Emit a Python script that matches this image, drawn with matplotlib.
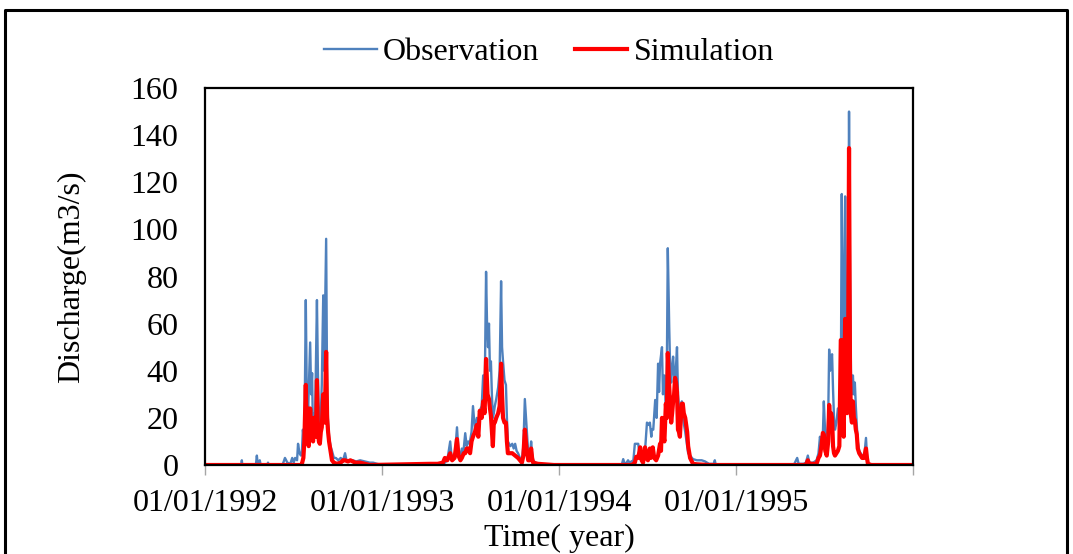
# plot.py — observed vs simulated daily discharge, 1992-1995
import numpy as np, pandas as pd
import matplotlib; matplotlib.use('Agg'); import matplotlib.pyplot as plt

START = pd.Timestamp('1992-01-01')

obs_day = [0, 75, 76, 77, 105, 107, 109, 112, 113, 115, 129, 130, 131, 160, 165, 170, 176, 180, 183,
           186, 190, 192, 195, 198, 200, 202, 205, 208, 210, 213, 217, 219, 221, 223, 225, 227, 231,
           233, 235, 237, 239, 241, 244, 246, 250, 252, 254, 256, 259, 262, 266, 270, 275, 280, 285,
           289, 292, 298, 305, 312, 320, 330, 340, 347, 355, 365,
           # 1993
           464, 480, 491, 495, 500, 506, 509, 512, 516, 520, 523, 527, 530, 533, 537, 540, 543, 546,
           550, 553, 557, 561, 564, 567, 571, 574, 577, 580, 582, 584, 586, 588, 590, 592, 594, 596,
           598, 601, 605, 608, 611, 613, 615, 618, 621, 623, 625, 630, 634, 637, 640, 643, 646, 650,
           654, 657, 660, 663, 667, 670, 673, 675, 677, 682, 687, 702, 720,
           # 1994
           860, 863, 866, 870, 873, 876, 880, 884, 887, 890, 894, 897, 900, 904, 908, 912, 915, 918,
           921, 922, 925, 929, 932, 935, 937, 939, 943, 945, 948, 951, 953, 955, 958, 960, 962, 964,
           966, 968, 970, 972, 974, 976, 978, 980, 982, 984, 986, 991, 995, 997, 1001, 1007, 1015,
           1025, 1032, 1040, 1050, 1052, 1054, 1080,
           # 1995
           1215, 1222, 1225, 1235, 1240, 1244, 1247, 1255, 1262, 1266, 1269, 1272, 1275, 1277, 1280,
           1283, 1286, 1288, 1290, 1292, 1294, 1296, 1298, 1300, 1303, 1306, 1309, 1312, 1314, 1316,
           1318, 1321, 1323, 1325, 1327, 1329, 1331, 1333, 1335, 1337, 1339, 1341, 1343, 1345, 1347,
           1350, 1353, 1356, 1360, 1364, 1366, 1368, 1375, 1383, 1460]
obs_q = [0, 0, 2, 0, 0, 4, 0, 0, 2, 0, 0, 1, 0, 0, 3, 1, 0.5, 3, 1,
         3, 2, 9, 5, 4, 6, 15, 8, 70, 30, 24, 52, 30, 39, 10, 22, 18, 70,
         39, 20, 14, 22, 34, 72, 40, 96, 30, 18, 12, 8, 6, 3, 3, 2, 3, 2,
         5, 2, 2, 2, 1.5, 2, 1.5, 1, 1, 0.5, 0,
         0.3, 0, 0.5, 1, 2, 10, 3, 3, 5, 16, 6, 4, 7, 5, 13.5, 8, 10, 9,
         14, 25, 15, 20, 15, 23, 25, 38, 28, 82, 60, 50, 60, 40, 44, 30, 20, 22,
         25, 28, 33, 40, 78, 50, 44, 36, 34, 20, 10, 8, 9, 7, 9, 6, 5, 3,
         2, 8, 28, 18, 5, 3, 10, 5, 2, 1, 0.5, 0.3, 0,
         0, 2.5, 0.5, 1, 2, 1, 1.5, 2, 9, 9, 9, 4, 3, 4, 6, 18, 17, 18,
         12, 15, 15, 27.6, 20, 43, 31, 43, 50, 30, 38, 26, 40, 92, 58, 40, 35, 42,
         46, 38, 35, 42, 50, 30, 25, 20, 24, 27, 20, 14, 8, 5, 4, 2.5, 2,
         2, 1.5, 0.5, 0.5, 2, 0, 0,
         0, 3, 0.5, 0.5, 1, 4, 1, 1, 2, 5, 12, 8, 13, 27, 12,
         7, 20, 49, 40, 45, 47, 32, 20, 15, 18, 24, 20, 30, 115, 60,
         50, 114, 60, 43, 60, 150, 80, 39, 30, 38, 30, 35, 25, 17, 10,
         6, 5, 4, 3, 11.5, 4, 0.5, 0.3, 0, 0]

# simulated discharge (m3/s)
sim_day = [0, 198, 200, 203, 205, 208, 210, 212, 214, 217, 219, 221, 223, 225, 227, 229, 231, 233,
           235, 237, 239, 241, 244, 247, 250, 252, 254, 256, 259, 262, 266, 272, 280, 285, 289, 295,
           300, 305, 310, 320, 330, 340,
           # 1993
           464, 480, 491, 495, 500, 506, 510, 515, 520, 523, 527, 530, 534, 537, 540, 543, 547, 550,
           553, 557, 561, 564, 567, 571, 574, 577, 580, 583, 586, 588, 590, 594, 596, 598, 601, 605,
           608, 611, 613, 615, 618, 621, 623, 625, 630, 634, 640, 646, 650, 654, 657, 660, 663, 667,
           670, 673, 675, 677, 687, 700, 720,
           # 1994
           880, 884, 887, 890, 894, 898, 901, 904, 908, 911, 914, 918, 920, 924, 927, 931, 935, 939,
           941, 943, 945, 948, 951, 953, 955, 958, 960, 962, 964, 966, 968, 970, 972, 974, 976, 978,
           980, 982, 984, 986, 988, 991, 995, 997, 1001, 1007, 1015, 1040,
           # 1995
           1240, 1244, 1247, 1262, 1266, 1269, 1272, 1275, 1277, 1280, 1283, 1286, 1288, 1290, 1292,
           1294, 1296, 1298, 1300, 1303, 1306, 1309, 1312, 1314, 1316, 1318, 1321, 1323, 1325, 1327,
           1329, 1331, 1333, 1335, 1337, 1339, 1341, 1343, 1345, 1347, 1350, 1353, 1356, 1360, 1364,
           1366, 1368, 1375, 1460]
sim_q = [0, 0, 0.5, 3, 10, 34, 12, 24, 8, 24, 15, 15, 10, 20, 20, 12, 36, 15,
         10, 9, 14, 16, 30, 18, 48, 20, 14, 10, 6, 2, 1, 0.5, 1, 2, 2, 1.5,
         2, 1.5, 1, 1, 0.5, 0,
         0.5, 0.5, 1, 3, 2, 5, 2, 3, 11, 4, 2, 3, 5, 5, 7, 7, 5, 10,
         12, 14, 17, 12, 23, 20, 27, 22, 45, 30, 28, 24, 21, 8, 18, 18, 20, 22,
         25, 43, 30, 20, 18, 18, 10, 5, 5, 5, 4, 3, 2, 1, 4, 15, 8, 2,
         2, 7, 3, 1, 0.5, 0.3, 0,
         0, 0.5, 1, 3.5, 3, 7.5, 2, 1, 7.5, 3, 2, 7, 3, 7.5, 3, 2, 4, 9,
         6, 20, 14, 10, 26, 20, 47.5, 33, 25, 18, 22, 27, 30, 37, 35, 31, 15, 14,
         12, 20, 26, 26, 22, 20, 14, 8, 3, 0.5, 0.3, 0,
         0, 2, 0.5, 0.5, 3, 4, 8, 13.6, 13, 6, 4, 10, 25.5, 18, 22,
         20, 8, 5, 4, 5, 6, 8, 53, 53, 20, 12, 62, 30, 22, 40,
         134.5, 40, 21, 18, 27, 20, 19, 15, 13, 7, 5, 4, 3, 3, 7,
         3, 0.5, 0, 0]

year_ticks = ['1992-01-01', '1993-01-01', '1994-01-01', '1995-01-01', '1996-01-01']
tick_labels = ['01/01/1992', '01/01/1993', '01/01/1994', '01/01/1995', '']
y_ticks = [0, 20, 40, 60, 80, 100, 120, 140, 160]

plt.rcParams['font.family'] = ['Liberation Serif', 'DejaVu Serif']
FS = 23

fig = plt.figure(figsize=(10.73, 5.54), dpi=100)
ax = fig.add_axes([205/1073, 1 - 465/554, 708/1073, 377/554])

obs_t = START + pd.to_timedelta(obs_day, unit='D')
sim_t = START + pd.to_timedelta(sim_day, unit='D')
ax.plot(obs_t, obs_q, color='#4f81bd', lw=1.7, label='Observation')
ax.plot(sim_t, sim_q, color='#ff0000', lw=3.0, label='Simulation')

ax.set_xlim(pd.Timestamp(year_ticks[0]), pd.Timestamp(year_ticks[-1]))
ax.set_ylim(0, 160)
ax.set_xticks([pd.Timestamp(t) for t in year_ticks])
ax.set_xticklabels(tick_labels, fontsize=FS)
ax.set_yticks(y_ticks)
ax.set_yticklabels([str(v) for v in y_ticks], fontsize=FS)
ax.tick_params(axis='y', length=0, pad=19)
ax.tick_params(axis='x', length=7, width=1, color='#a6a6a6', pad=10)
for s in ax.spines.values():
    s.set_linewidth(1.6); s.set_color('black')

ax.set_ylabel('Discharge(m3/s)', fontsize=FS, labelpad=32)
ax.set_xlabel('Time( year)', fontsize=FS, labelpad=4.5)

fig.legend(loc='center', bbox_to_anchor=(549/1073, 1 - 52/554), ncol=2, frameon=False,
           fontsize=FS, handlelength=1.65, handletextpad=0.2, columnspacing=1.1)

# outer chart border (cropped at the bottom, like the reference)
fig.add_artist(plt.Line2D([5/1073, 5/1073, 1067/1073, 1067/1073],
                          [0, 1 - 10/554, 1 - 10/554, 0],
                          transform=fig.transFigure, color='black', lw=2.2))

fig.savefig('out.png', dpi=100)
